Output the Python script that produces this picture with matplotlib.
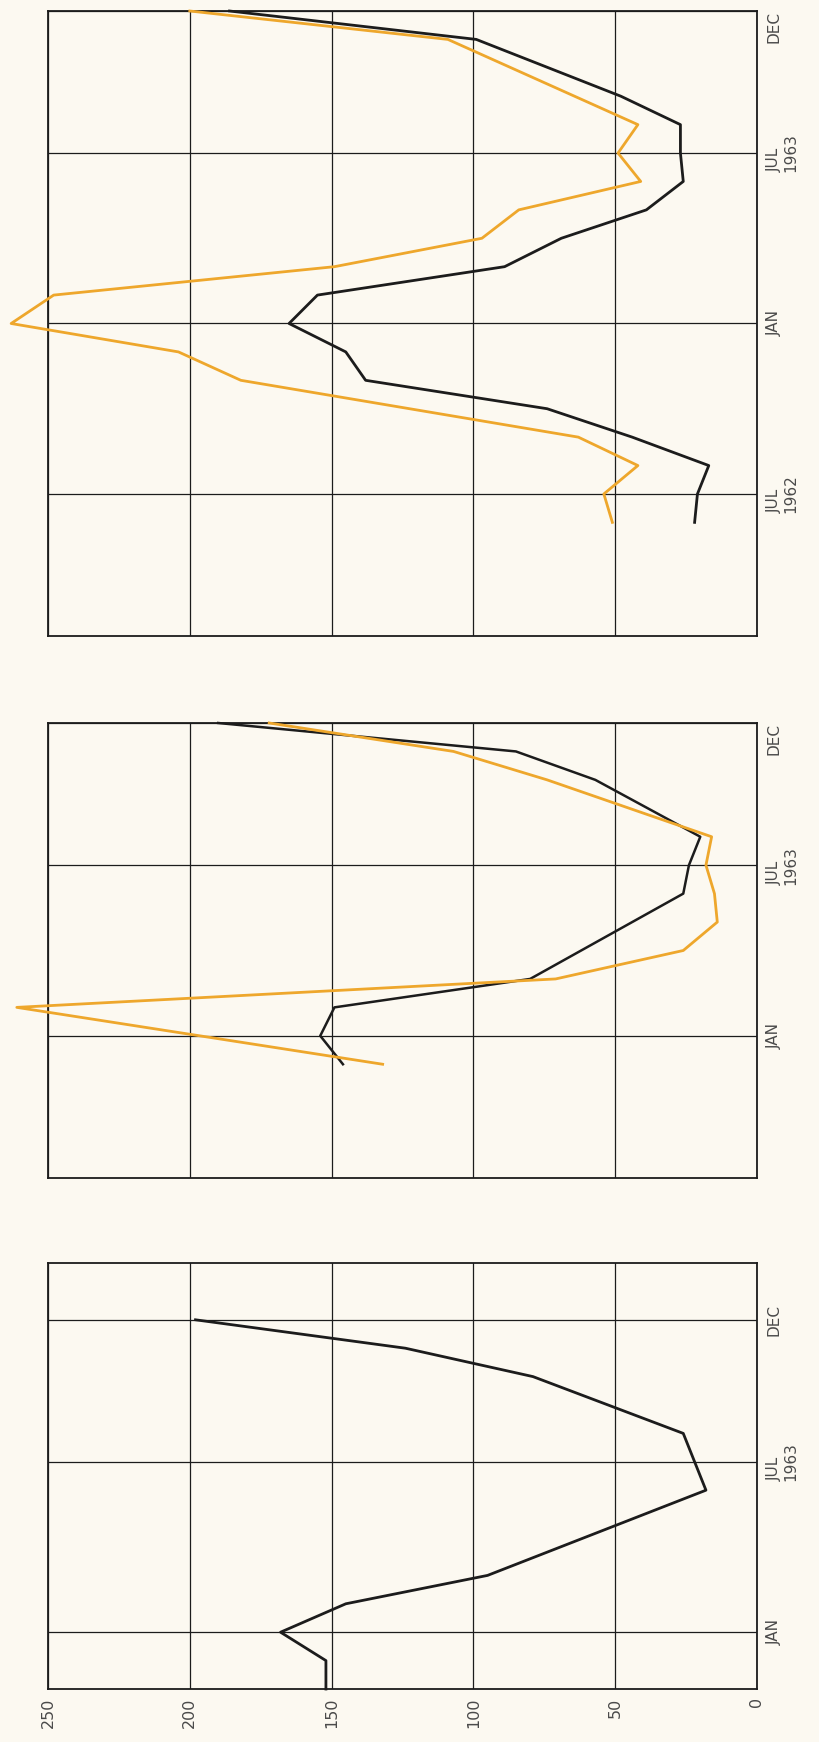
import matplotlib
matplotlib.use("Agg")
import matplotlib.pyplot as plt

# time axis: months counted from Jan 1962 (0 = Jan 1962, 12 = Jan 1963)
# value axis: 0-250, drawn horizontally and reversed (the sheet is printed sideways)

# upper panel, Feb 1962 - Dec 1963
top_black_t = [5, 6, 7, 8, 9, 10, 11, 12, 13, 14, 15, 16, 17, 18, 19, 20, 22, 23]
top_black_v = [22, 21, 17, 44, 74, 138, 145, 165, 155, 89, 69, 39, 26, 27, 27, 48, 99, 186]
top_orange_t = [5, 6, 7, 8, 10, 11, 12, 13, 14, 15, 16, 17, 18, 19, 22, 23]
top_orange_v = [51, 54, 42, 63, 182, 204, 263, 248, 149, 97, 84, 41, 49, 42, 109, 200]

# middle panel, Aug 1962 - Dec 1963
mid_black_t = [11, 12, 13, 14, 17, 18, 19, 21, 22, 23]
mid_black_v = [146, 154, 149, 80, 26, 24, 20, 57, 85, 190]
mid_orange_t = [11, 13, 14, 15, 16, 17, 18, 19, 21, 22, 23]
mid_orange_v = [132, 261, 71, 26, 14, 15, 18, 16, 74, 107, 172]

# lower panel, Nov 1962 - Feb 1964
bot_black_t = [10, 11, 12, 13, 14, 17, 18, 19, 21, 22, 23]
bot_black_v = [152, 152, 168, 145, 95, 18, 22, 26, 79, 124, 198]

value_ticks = [0, 50, 100, 150, 200, 250]
value_labels = ["0", "50", "100", "150", "200", "250"]

month_ticks_top = [6, 12, 18, 23]
month_labels_top = ["JUL\n1962", "JAN", "JUL\n1963", "DEC"]
month_ticks = [12, 18, 23]
month_labels = ["JAN", "JUL\n1963", "DEC"]

BG = "#fcf9f1"
ORANGE = "#eea72c"
INK = "#1c1c1c"
TEXT = "#4a4a4a"

fig = plt.figure(figsize=(8.19, 17.42), dpi=100, facecolor=BG)

left, width = 48 / 819, 709 / 819
ax_top = fig.add_axes([left, 1 - 636 / 1742, width, 625 / 1742])
ax_mid = fig.add_axes([left, 1 - 1178 / 1742, width, 455 / 1742])
ax_bot = fig.add_axes([left, 1 - 1689 / 1742, width, 426 / 1742])


def style(ax, t0, t1, ticks, labels, dec_on_edge):
    ax.set_facecolor(BG)
    ax.set_xlim(250, 0)
    ax.set_ylim(t0, t1)
    ax.set_xticks(value_ticks)
    ax.set_yticks(ticks)
    ax.yaxis.tick_right()
    ax.set_yticklabels(labels, rotation=90, va="center", ha="left",
                       fontsize=11, color=TEXT, linespacing=1.1)
    if dec_on_edge:
        ax.get_yticklabels()[-1].set_va("top")
    ax.tick_params(axis="y", length=0, pad=7)
    ax.tick_params(axis="x", length=0, pad=6)
    ax.grid(True, color=INK, lw=0.9)
    ax.set_axisbelow(True)
    for s in ax.spines.values():
        s.set_color(INK)
        s.set_linewidth(1.3)


style(ax_top, 1, 23, month_ticks_top, month_labels_top, True)
style(ax_mid, 7, 23, month_ticks, month_labels, True)
style(ax_bot, 10, 25, month_ticks, month_labels, False)

for ax in (ax_top, ax_mid):
    ax.set_xticklabels([])
ax_bot.set_xticklabels(value_labels, rotation=90, ha="center", va="top",
                       fontsize=11.5, color=TEXT)

ax_top.plot(top_orange_v, top_orange_t, color=ORANGE, lw=2.0, clip_on=False, zorder=3)
ax_top.plot(top_black_v, top_black_t, color=INK, lw=2.0, clip_on=False, zorder=4)
ax_mid.plot(mid_black_v, mid_black_t, color=INK, lw=1.8, clip_on=False, zorder=3)
ax_mid.plot(mid_orange_v, mid_orange_t, color=ORANGE, lw=2.0, clip_on=False, zorder=4)
ax_bot.plot(bot_black_v, bot_black_t, color=INK, lw=2.0, clip_on=False, zorder=3)

fig.savefig("out.png", dpi=100, facecolor=BG)
